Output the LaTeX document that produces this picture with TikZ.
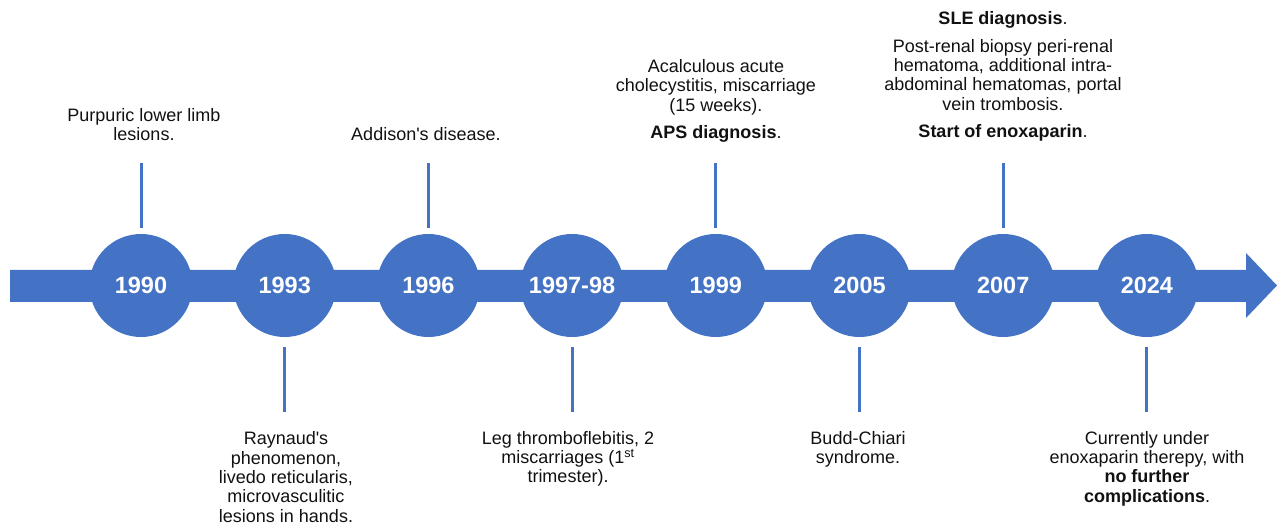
\documentclass[tikz,border=0pt]{standalone}
\usepackage{fontspec}
\setmainfont{Liberation Sans}
\definecolor{tlblue}{HTML}{4472C4}
\definecolor{tltext}{HTML}{111111}
\begin{document}
\begin{tikzpicture}[x=1pt,y=-1pt,
  yearnode/.style={circle,fill=tlblue,minimum size=103pt,inner sep=0pt,text=white,font=\fontsize{23.5}{25}\selectfont\bfseries},
  stem/.style={draw=tlblue,line width=3pt},
  note/.style={align=center,text=tltext,inner sep=0pt,font=\fontsize{18}{19.3}\selectfont}]
\useasboundingbox (0,0) rectangle (1277,526);
% main arrow
\fill[tlblue] (10,270) -- (1246,270) -- (1246,253) -- (1277,285.5) -- (1246,318) -- (1246,302) -- (10,302) -- cycle;
% circles
\node[yearnode] (y1) at (141,285.5) {1990};
\node[yearnode] (y2) at (284.7,285.5) {1993};
\node[yearnode] (y3) at (428.4,285.5) {1996};
\node[yearnode] (y4) at (572.1,285.5) {1997-98};
\node[yearnode] (y5) at (715.8,285.5) {1999};
\node[yearnode] (y6) at (859.5,285.5) {2005};
\node[yearnode] (y7) at (1003.2,285.5) {2007};
\node[yearnode] (y8) at (1146.9,285.5) {2024};
% stems
\foreach \i/\x in {1/141,3/428.4,5/715.8,7/1003.2}{
  \coordinate (ta\i) at (\x,163);
  \coordinate (tb\i) at (\x,228);
  \draw[stem] (ta\i) -- (tb\i);
}
\foreach \i/\x in {2/284.7,4/572.1,6/859.5,8/1146.9}{
  \coordinate (ba\i) at (\x,347);
  \coordinate (bb\i) at (\x,412);
  \draw[stem] (ba\i) -- (bb\i);
}
% texts
\node[note] (n1) at (144,124.5) {Purpuric lower limb\\lesions.};
\node[note] (n2) at (286,477) {Raynaud\textquotesingle s\\phenomenon,\\livedo reticularis,\\microvasculitic\\lesions in hands.};
\node[note] (n3) at (426,134) {Addison\textquotesingle s disease.};
\node[note] (n4) at (568,459) {Leg thromboflebitis, 2\\miscarriages (1\textsuperscript{st}\\trimester).};
\node[note] (n5) at (716,101) {Acalculous acute\\cholecystitis, miscarriage\\(15 weeks).\\[8pt]\textbf{APS diagnosis}.};
\node[note] (n6) at (858,449.5) {Budd-Chiari\\syndrome.};
\node[note] (n7) at (1003,76.5) {\textbf{SLE diagnosis}.\\[8pt]Post-renal biopsy peri-renal\\hematoma, additional intra-\\abdominal hematomas, portal\\vein trombosis.\\[8pt]\textbf{Start of enoxaparin}.};
\node[note] (n8) at (1147,468.5) {Currently under\\enoxaparin therepy, with\\\textbf{no further}\\\textbf{complications}.};
\end{tikzpicture}
\end{document}
